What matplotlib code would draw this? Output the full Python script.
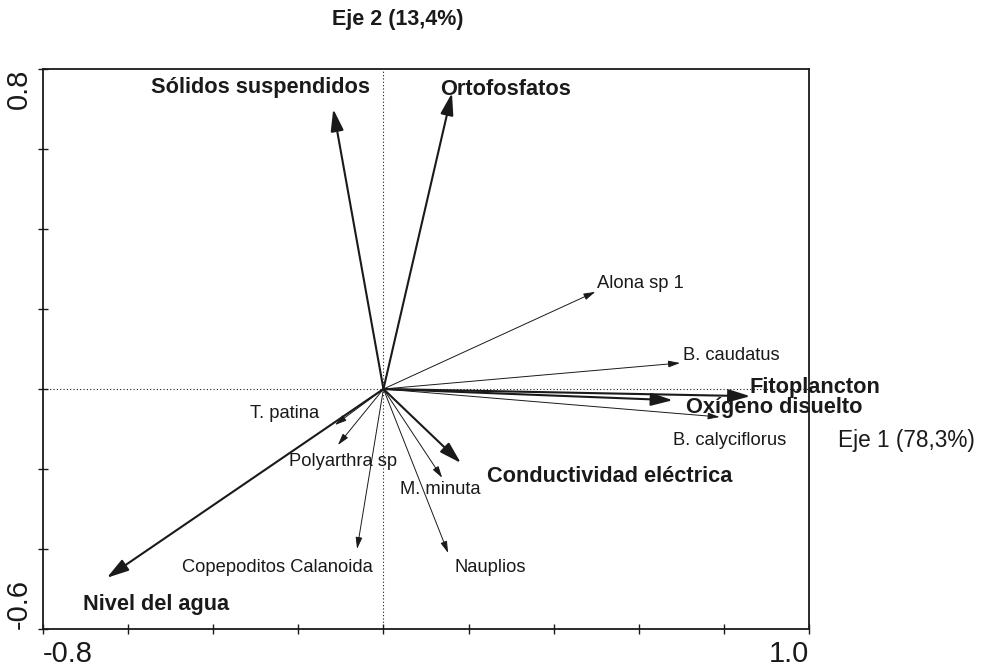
import matplotlib

matplotlib.use("Agg")

import matplotlib.pyplot as plt


# ==================================================
# DATA (biplot scores)
# ==================================================

env_names = [
    "Sólidos suspendidos",
    "Ortofosfatos",
    "Fitoplancton",
    "Oxígeno disuelto",
    "Conductividad eléctrica",
    "Nivel del agua",
]
env_x = [-0.118, 0.161, 0.862, 0.680, 0.182, -0.650]
env_y = [0.700, 0.740, -0.018, -0.028, -0.185, -0.472]

spp_names = [
    "Alona sp 1",
    "B. caudatus",
    "B. calyciflorus",
    "T. patina",
    "Polyarthra sp",
    "M. minuta",
    "Copepoditos Calanoida",
    "Nauplios",
]
spp_x = [0.498, 0.697, 0.790, -0.114, -0.107, 0.138, -0.062, 0.152]
spp_y = [0.243, 0.065, -0.070, -0.090, -0.140, -0.222, -0.400, -0.410]

x_limits = (-0.8, 1.0)
y_limits = (-0.6, 0.8)
axis1_label = "Eje 1 (78,3%)"
axis2_label = "Eje 2 (13,4%)"


# label placement (data coords, left/center anchored)
env_label_pos = [
    (-0.29, 0.755, "center"),
    (0.133, 0.750, "left"),
    (0.861, 0.005, "left"),
    (0.712, -0.045, "left"),
    (0.243, -0.218, "left"),
    (-0.706, -0.538, "left"),
]
spp_label_pos = [
    (0.502, 0.265),
    (0.703, 0.085),
    (0.680, -0.128),
    (-0.313, -0.060),
    (-0.222, -0.180),
    (0.039, -0.250),
    (-0.473, -0.445),
    (0.168, -0.445),
]

INK = "#1a1a1a"

plt.rcParams["font.family"] = ["Liberation Sans", "DejaVu Sans"]

fig = plt.figure(figsize=(9.82, 6.69), dpi=100)
ax = fig.add_axes([43 / 982, 1 - 629 / 669, 766 / 982, 560 / 669])

ax.set_xlim(*x_limits)
ax.set_ylim(*y_limits)

# reference lines through the origin
ax.axvline(0, color=INK, lw=0.8, ls=(0, (1, 2)), zorder=1)
ax.axhline(0, color=INK, lw=0.8, ls=(0, (1, 2)), zorder=1)

# environmental arrows (heavy)
for x, y in zip(env_x, env_y):
    ax.annotate(
        "",
        xy=(x, y),
        xytext=(0, 0),
        arrowprops=dict(
            arrowstyle="-|>,head_length=0.95,head_width=0.28",
            mutation_scale=14,
            lw=1.5,
            color=INK,
            shrinkA=0,
            shrinkB=0,
        ),
        zorder=3,
    )

# species arrows (thin)
for x, y in zip(spp_x, spp_y):
    ax.annotate(
        "",
        xy=(x, y),
        xytext=(0, 0),
        arrowprops=dict(
            arrowstyle="-|>,head_length=0.7,head_width=0.2",
            mutation_scale=10,
            lw=0.7,
            color=INK,
            shrinkA=0,
            shrinkB=0,
        ),
        zorder=2,
    )

for name, (lx, ly, ha) in zip(env_names, env_label_pos):
    ax.text(lx, ly, name, fontsize=15.7, fontweight="bold",
            color=INK, ha=ha, va="center", zorder=4)

for name, (lx, ly) in zip(spp_names, spp_label_pos):
    ax.text(lx, ly, name, fontsize=13.2, color=INK,
            ha="left", va="center", zorder=4)

# axis titles
ax.text(1.068, -0.128, axis1_label, fontsize=16.3, color=INK,
        ha="left", va="center", clip_on=False)
ax.text(0.034, 0.925, axis2_label, fontsize=15.5, fontweight="bold",
        color=INK, ha="center", va="center", clip_on=False)

# ticks every 0.2, no numeric labels on the ticks
ax.set_xticks([-0.8 + 0.2 * i for i in range(10)])
ax.set_yticks([-0.6 + 0.2 * i for i in range(8)])
ax.tick_params(direction="inout", length=7, width=1.0, color=INK,
               labelbottom=False, labelleft=False)

for side in ["left", "bottom", "top", "right"]:
    ax.spines[side].set_color(INK)
    ax.spines[side].set_linewidth(1.3)

# end labels of the axes
ax.text(0.0, -0.045, "-0.8", transform=ax.transAxes, fontsize=21,
        color=INK, ha="left", va="center", clip_on=False)
ax.text(1.0, -0.045, "1.0", transform=ax.transAxes, fontsize=21,
        color=INK, ha="right", va="center", clip_on=False)
ax.text(-0.032, 1.0, "0.8", transform=ax.transAxes, fontsize=21,
        color=INK, ha="center", va="top", rotation=90, clip_on=False)
ax.text(-0.032, 0.0, "-0.6", transform=ax.transAxes, fontsize=21,
        color=INK, ha="center", va="bottom", rotation=90, clip_on=False)

fig.savefig("out.png", dpi=100)
plt.close(fig)
